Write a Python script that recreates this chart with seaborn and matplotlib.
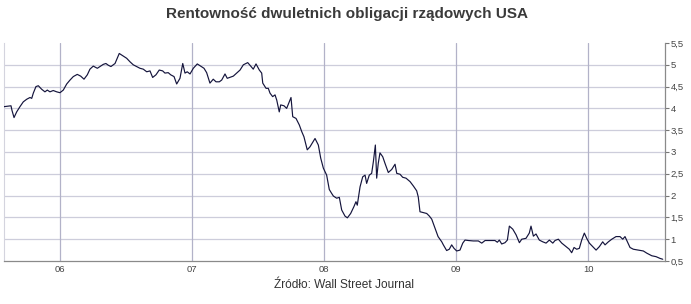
import numpy as np
import pandas as pd
import matplotlib
matplotlib.use("Agg")
import matplotlib.pyplot as plt
import seaborn as sns

title = "Rentowność dwuletnich obligacji rządowych USA"
source = "Źródło: Wall Street Journal"

# time in fractional years
years = [
    2005.576, 2005.629, 2005.636, 2005.652, 2005.672, 2005.697, 2005.722, 2005.748, 2005.773, 2005.786,
    2005.798, 2005.818, 2005.836, 2005.861, 2005.886, 2005.904, 2005.924, 2005.949, 2005.975, 2006.000,
    2006.025, 2006.051, 2006.076, 2006.101, 2006.131, 2006.157, 2006.182, 2006.207, 2006.227, 2006.252,
    2006.283, 2006.303, 2006.328, 2006.348, 2006.366, 2006.386, 2006.417, 2006.449, 2006.480, 2006.505,
    2006.530, 2006.555, 2006.581, 2006.606, 2006.631, 2006.657, 2006.682, 2006.702, 2006.727, 2006.752,
    2006.778, 2006.795, 2006.820, 2006.839, 2006.864, 2006.884, 2006.909, 2006.930, 2006.947, 2006.964,
    2006.985, 2007.010, 2007.040, 2007.066, 2007.091, 2007.111, 2007.136, 2007.161, 2007.182, 2007.207,
    2007.225, 2007.250, 2007.267, 2007.313, 2007.339, 2007.364, 2007.389, 2007.422, 2007.445, 2007.464,
    2007.485, 2007.510, 2007.528, 2007.536, 2007.561, 2007.578, 2007.591, 2007.611, 2007.629, 2007.642,
    2007.661, 2007.672, 2007.697, 2007.717, 2007.750, 2007.763, 2007.788, 2007.813, 2007.831, 2007.848,
    2007.873, 2007.894, 2007.932, 2007.957, 2007.975, 2007.995, 2008.020, 2008.040, 2008.058, 2008.071,
    2008.096, 2008.116, 2008.134, 2008.159, 2008.177, 2008.202, 2008.227, 2008.242, 2008.252, 2008.273,
    2008.293, 2008.311, 2008.323, 2008.343, 2008.361, 2008.374, 2008.389, 2008.399, 2008.411, 2008.424,
    2008.445, 2008.462, 2008.487, 2008.513, 2008.538, 2008.551, 2008.576, 2008.596, 2008.621, 2008.652,
    2008.677, 2008.702, 2008.714, 2008.727, 2008.752, 2008.778, 2008.798, 2008.816, 2008.841, 2008.864,
    2008.892, 2008.904, 2008.929, 2008.949, 2008.967, 2008.985, 2009.005, 2009.030, 2009.051, 2009.068,
    2009.093, 2009.131, 2009.169, 2009.195, 2009.220, 2009.258, 2009.295, 2009.313, 2009.328, 2009.346,
    2009.371, 2009.389, 2009.404, 2009.430, 2009.455, 2009.480, 2009.498, 2009.530, 2009.555, 2009.568,
    2009.586, 2009.606, 2009.631, 2009.657, 2009.682, 2009.707, 2009.733, 2009.750, 2009.775, 2009.801,
    2009.833, 2009.858, 2009.876, 2009.894, 2009.914, 2009.934, 2009.952, 2009.972, 2009.990, 2010.010,
    2010.035, 2010.061, 2010.086, 2010.111, 2010.129, 2010.154, 2010.180, 2010.212, 2010.242, 2010.263,
    2010.280, 2010.298, 2010.318, 2010.343, 2010.381, 2010.419, 2010.445, 2010.483, 2010.515, 2010.545,
    2010.566,
]

yields = [
    4.04, 4.06, 3.96, 3.79, 3.92, 4.04, 4.15, 4.21, 4.25, 4.23,
    4.35, 4.50, 4.52, 4.44, 4.38, 4.42, 4.38, 4.41, 4.38, 4.36,
    4.42, 4.56, 4.65, 4.73, 4.78, 4.74, 4.67, 4.77, 4.90, 4.97,
    4.92, 4.96, 5.01, 5.03, 4.99, 4.96, 5.03, 5.26, 5.20, 5.15,
    5.07, 5.00, 4.96, 4.92, 4.90, 4.84, 4.86, 4.71, 4.77, 4.88,
    4.86, 4.81, 4.82, 4.77, 4.73, 4.56, 4.69, 5.03, 4.81, 4.84,
    4.79, 4.92, 5.02, 4.97, 4.92, 4.82, 4.58, 4.67, 4.61, 4.61,
    4.65, 4.79, 4.69, 4.74, 4.81, 4.88, 5.00, 5.05, 4.97, 4.90,
    5.02, 4.88, 4.81, 4.58, 4.46, 4.46, 4.35, 4.27, 4.31, 4.19,
    3.92, 4.08, 4.06, 4.00, 4.25, 3.81, 3.77, 3.62, 3.47, 3.35,
    3.05, 3.12, 3.31, 3.16, 2.86, 2.63, 2.47, 2.14, 2.05, 1.99,
    1.94, 1.96, 1.67, 1.53, 1.49, 1.59, 1.75, 1.86, 1.78, 2.20,
    2.43, 2.47, 2.28, 2.47, 2.51, 2.78, 3.16, 2.40, 2.74, 2.98,
    2.89, 2.74, 2.53, 2.60, 2.72, 2.51, 2.49, 2.42, 2.40, 2.32,
    2.22, 2.11, 1.97, 1.63, 1.61, 1.59, 1.53, 1.46, 1.25, 1.06,
    0.94, 0.87, 0.74, 0.77, 0.87, 0.79, 0.73, 0.75, 0.91, 0.98,
    0.97, 0.96, 0.96, 0.91, 0.97, 0.97, 0.97, 0.93, 0.98, 0.89,
    0.92, 0.98, 1.30, 1.23, 1.10, 0.92, 1.00, 1.02, 1.14, 1.30,
    1.07, 1.12, 0.98, 0.94, 0.91, 0.98, 0.91, 0.97, 1.00, 0.91,
    0.83, 0.77, 0.69, 0.81, 0.77, 0.79, 0.98, 1.14, 1.02, 0.91,
    0.83, 0.75, 0.83, 0.94, 0.87, 0.94, 1.00, 1.06, 1.06, 1.00,
    1.06, 0.94, 0.81, 0.77, 0.75, 0.73, 0.68, 0.62, 0.60, 0.56,
    0.54,
]

year_ticks = ["2006-01-01", "2007-01-01", "2008-01-01", "2009-01-01", "2010-01-01"]
year_labels = ["06", "07", "08", "09", "10"]
y_ticks = [0.5, 1, 1.5, 2, 2.5, 3, 3.5, 4, 4.5, 5, 5.5]
y_labels = ["0,5", "1", "1,5", "2", "2,5", "3", "3,5", "4", "4,5", "5", "5,5"]


def to_date(y):
    base = pd.Timestamp("2006-01-01")
    return base + pd.to_timedelta((y - 2006.0) * 365.25, unit="D")


df = pd.DataFrame({"date": [to_date(y) for y in years], "value": yields})

sns.set_style("white")
plt.rcParams["font.family"] = ["Liberation Sans", "DejaVu Sans"]

fig = plt.figure(figsize=(6.91, 3.04), dpi=100)
ax = fig.add_axes([4 / 691, 1 - 261 / 304, (665 - 4) / 691, (261 - 43) / 304])

grid_h = "#cdcddb"
grid_v = "#b2b2c8"
for v in y_ticks[1:-1]:
    ax.axhline(v, color=grid_h, lw=0.9, zorder=0)
for d in year_ticks:
    ax.axvline(pd.Timestamp(d), color=grid_v, lw=0.9, zorder=0)

sns.lineplot(data=df, x="date", y="value", ax=ax, color="#14143c", lw=0.85, zorder=3)

ax.set_xlim(to_date(2005.576), to_date(2010.583))
ax.set_ylim(0.5, 5.5)

ax.set_xticks([pd.Timestamp(d) for d in year_ticks])
ax.set_xticklabels(year_labels)
ax.yaxis.tick_right()
ax.set_yticks(y_ticks)
ax.set_yticklabels(y_labels)
ax.tick_params(axis="y", which="both", right=True, length=3, width=0.8,
               color="#777777", labelsize=6.8, labelcolor="#444444", pad=1)
ax.tick_params(axis="x", length=0, labelsize=6.8, labelcolor="#444444", pad=3)
ax.set_xlabel("")
ax.set_ylabel("")

ax.spines["top"].set_visible(False)
ax.spines["left"].set_color("#d4d4de")
ax.spines["left"].set_linewidth(0.8)
ax.spines["right"].set_color("#8a8a8a")
ax.spines["right"].set_linewidth(0.9)
ax.spines["bottom"].set_color("#8a8a8a")
ax.spines["bottom"].set_linewidth(0.9)

fig.text(347 / 691, 1 - 14 / 304, title, ha="center", va="center",
         fontsize=11, fontweight="bold", color="#3a3a3a")
fig.text(344 / 691, 1 - 285 / 304, source, ha="center", va="center",
         fontsize=8.6, color="#333333")

fig.savefig("out.png", dpi=100, facecolor="white")
